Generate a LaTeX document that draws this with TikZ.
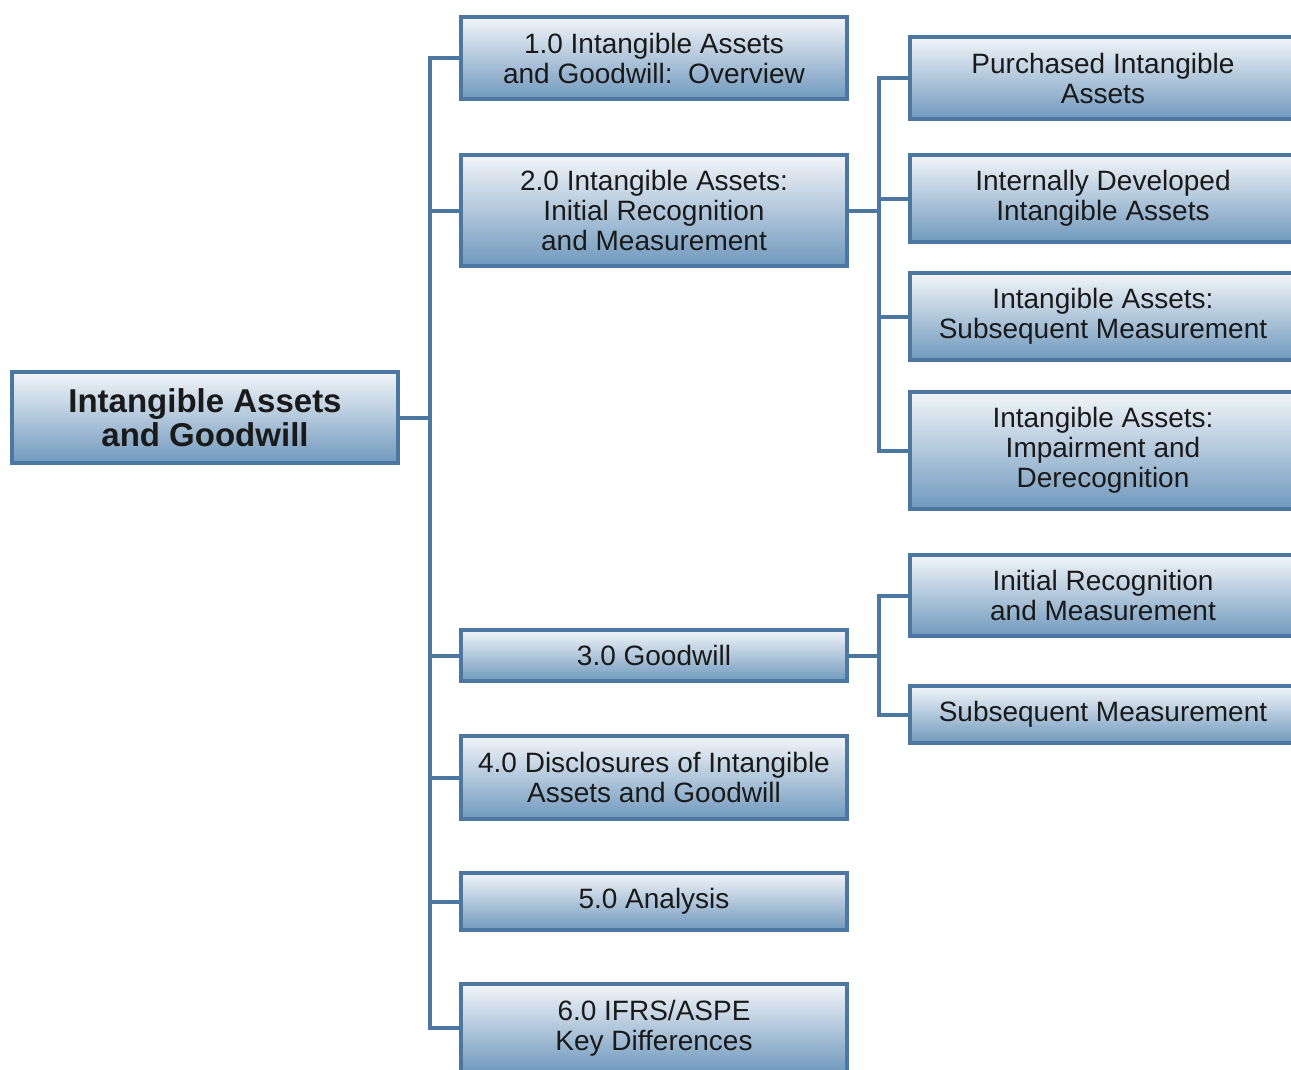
\documentclass[tikz,border=0pt]{standalone}
\usepackage{fontspec}
\setmainfont{Liberation Sans}
\begin{document}
\begin{tikzpicture}[x=1pt,y=-1pt,
  box/.style={draw=boxline, line width=4pt, top color=boxtop, bottom color=boxbot,
    minimum width=386pt, align=center, text=textc, inner sep=0pt,
    font=\fontsize{28}{30}\selectfont},
  rootbox/.style={box, font=\fontsize{33}{34}\selectfont\bfseries},
  conn/.style={draw=boxline, line width=4pt, line join=miter}]
\definecolor{boxline}{HTML}{4B77A1}
\definecolor{boxtop}{HTML}{F2F5F9}
\definecolor{boxbot}{HTML}{7099BD}
\definecolor{textc}{HTML}{1A1A1A}
\useasboundingbox (0,0) rectangle (1291,1070);
\clip (0,0) rectangle (1291,1070);
% nodes
\node[rootbox, minimum height=91pt] (root) at (205,417.5) {Intangible Assets\\and Goodwill};
\node[box, minimum height=82pt] (n1) at (654,58) {1.0 Intangible Assets\\and Goodwill:\ \ Overview};
\node[box, minimum height=111pt] (n2) at (654,210.5) {2.0 Intangible Assets:\\Initial Recognition\\and Measurement};
\node[box, minimum height=51pt] (n3) at (654,655.5) {3.0 Goodwill};
\node[box, minimum height=83pt] (n4) at (654,777.5) {4.0 Disclosures of Intangible\\Assets and Goodwill};
\node[box, minimum height=57pt] (n5) at (654,901.5) {5.0 Analysis};
\node[box, minimum height=88pt] (n6) at (654,1028) {6.0 IFRS/ASPE\\Key Differences};
\node[box, minimum height=82pt] (p1) at (1103,78) {Purchased Intangible\\Assets};
\node[box, minimum height=87pt] (p2) at (1103,198.5) {Internally Developed\\Intangible Assets};
\node[box, minimum height=87pt] (p3) at (1103,316.5) {Intangible Assets:\\Subsequent Measurement};
\node[box, minimum height=117pt] (p4) at (1103,450.5) {Intangible Assets:\\Impairment and\\Derecognition};
\node[box, minimum height=81pt] (g1) at (1103,595.5) {Initial Recognition\\and Measurement};
\node[box, minimum height=57pt] (g2) at (1103,714.5) {Subsequent Measurement};
% connectors
\foreach \c in {n1,n2,n3,n4,n5,n6}
  \draw[conn] (root.east) -| ([xshift=-29pt]\c.west) -- (\c.west);
\foreach \c in {p1,p2,p3,p4}
  \draw[conn] (n2.east) -| ([xshift=-29pt]\c.west) -- (\c.west);
\foreach \c in {g1,g2}
  \draw[conn] (n3.east) -| ([xshift=-29pt]\c.west) -- (\c.west);
\end{tikzpicture}
\end{document}
